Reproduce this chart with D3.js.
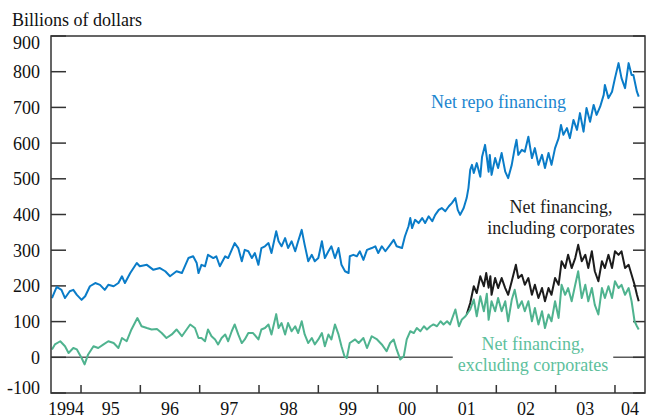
<!DOCTYPE html>
<html>
<head>
<meta charset="utf-8">
<script src="https://d3js.org/d3.v7.min.js"></script>
<style>
  body { margin: 0; background: #fff; }
  svg text { font-family: 'Liberation Serif', 'Times New Roman', serif; font-size: 18px; }
</style>
</head>
<body>
<div id="chart"></div>
<script>
// weekly series as [decimal year, billions of dollars]
var repo = [
  [1994.51,166],[1994.59,197],[1994.67,189],[1994.73,166],[1994.81,185],[1994.87,189],[1994.93,175],[1995.01,161],
  [1995.07,171],[1995.15,199],[1995.24,208],[1995.32,203],[1995.40,189],[1995.46,203],[1995.55,199],[1995.63,208],
  [1995.69,227],[1995.74,208],[1995.83,236],[1995.94,264],[1995.99,255],[1996.11,259],[1996.22,245],[1996.33,250],
  [1996.42,241],[1996.50,227],[1996.61,241],[1996.70,236],[1996.81,278],[1996.89,283],[1996.95,264],[1996.98,236],
  [1997.03,259],[1997.09,255],[1997.14,287],[1997.23,278],[1997.28,283],[1997.34,255],[1997.43,283],[1997.48,278],
  [1997.54,301],[1997.59,320],[1997.65,306],[1997.71,269],[1997.76,301],[1997.82,297],[1997.88,278],[1997.93,292],
  [1997.99,259],[1998.04,306],[1998.10,311],[1998.16,320],[1998.21,292],[1998.29,353],[1998.33,325],[1998.38,311],
  [1998.44,334],[1998.49,306],[1998.55,325],[1998.61,297],[1998.66,325],[1998.72,357],[1998.77,315],[1998.83,269],
  [1998.89,287],[1998.94,269],[1999.00,278],[1999.06,325],[1999.11,278],[1999.17,297],[1999.22,311],[1999.28,278],
  [1999.34,306],[1999.39,259],[1999.45,241],[1999.51,236],[1999.53,283],[1999.59,287],[1999.65,283],[1999.70,297],
  [1999.76,273],[1999.82,301],[1999.90,306],[1999.96,311],[2000.01,292],[2000.07,311],[2000.13,297],[2000.21,315],
  [2000.27,329],[2000.32,311],[2000.41,306],[2000.46,339],[2000.52,367],[2000.55,390],[2000.58,362],[2000.63,385],
  [2000.69,376],[2000.75,390],[2000.80,376],[2000.86,395],[2000.92,381],[2000.97,399],[2001.03,413],[2001.08,418],
  [2001.14,409],[2001.20,423],[2001.25,432],[2001.31,446],[2001.35,413],[2001.39,399],[2001.45,418],[2001.50,446],
  [2001.53,474],[2001.56,525],[2001.59,539],[2001.62,516],[2001.67,544],[2001.73,506],[2001.76,562],[2001.81,595],
  [2001.84,560],[2001.87,520],[2001.89,567],[2001.92,511],[2001.98,558],[2002.03,530],[2002.09,572],[2002.15,520],
  [2002.20,502],[2002.26,539],[2002.31,586],[2002.34,609],[2002.37,567],[2002.43,581],[2002.48,576],[2002.54,618],
  [2002.60,558],[2002.65,586],[2002.71,539],[2002.77,567],[2002.82,530],[2002.88,572],[2002.93,539],[2002.99,586],
  [2003.05,614],[2003.09,651],[2003.13,623],[2003.19,642],[2003.24,614],[2003.30,665],[2003.36,637],[2003.41,684],
  [2003.47,632],[2003.52,698],[2003.58,660],[2003.64,707],[2003.69,679],[2003.75,702],[2003.81,735],[2003.83,763],
  [2003.89,726],[2003.95,744],[2004.00,782],[2004.06,824],[2004.11,782],[2004.17,754],[2004.23,824],[2004.28,791],
  [2004.31,791],[2004.37,744],[2004.40,730]
];

var exclCorp = [
  [1994.51,22],[1994.56,36],[1994.65,45],[1994.73,31],[1994.79,12],[1994.87,26],[1994.93,22],[1995.01,-2],
  [1995.06,-20],[1995.12,8],[1995.21,31],[1995.29,26],[1995.38,36],[1995.46,45],[1995.55,40],[1995.63,26],
  [1995.69,54],[1995.77,45],[1995.85,78],[1995.95,110],[1996.02,87],[1996.11,82],[1996.19,78],[1996.28,79],
  [1996.36,68],[1996.44,54],[1996.53,64],[1996.61,78],[1996.70,59],[1996.78,78],[1996.84,92],[1996.92,82],
  [1996.98,54],[1997.03,54],[1997.09,45],[1997.14,78],[1997.20,59],[1997.26,50],[1997.31,36],[1997.37,54],
  [1997.43,64],[1997.48,45],[1997.54,73],[1997.59,92],[1997.65,64],[1997.71,40],[1997.76,50],[1997.82,68],
  [1997.90,68],[1997.99,50],[1998.04,78],[1998.10,82],[1998.16,92],[1998.21,64],[1998.29,121],[1998.33,82],
  [1998.38,96],[1998.44,64],[1998.49,96],[1998.55,73],[1998.61,87],[1998.66,68],[1998.72,101],[1998.77,64],
  [1998.83,40],[1998.89,54],[1998.94,36],[1999.00,50],[1999.06,68],[1999.11,31],[1999.17,64],[1999.22,50],
  [1999.28,92],[1999.34,64],[1999.39,31],[1999.44,3],[1999.48,-2],[1999.53,40],[1999.62,50],[1999.68,40],
  [1999.76,54],[1999.82,26],[1999.90,59],[1999.99,50],[2000.07,36],[2000.15,17],[2000.21,40],[2000.27,50],
  [2000.32,22],[2000.38,-6],[2000.44,3],[2000.49,50],[2000.55,73],[2000.61,68],[2000.66,82],[2000.72,73],
  [2000.78,87],[2000.83,78],[2000.89,87],[2000.94,92],[2001.00,87],[2001.06,101],[2001.11,92],[2001.17,101],
  [2001.22,92],[2001.31,134],[2001.37,87],[2001.42,106],[2001.48,115],[2001.50,120],[2001.56,134],[2001.62,162],
  [2001.67,115],[2001.73,171],[2001.79,129],[2001.84,178],[2001.87,105],[2001.92,157],[2001.98,129],[2002.03,166],
  [2002.09,129],[2002.15,157],[2002.20,101],[2002.26,161],[2002.31,189],[2002.37,138],[2002.43,157],[2002.48,129],
  [2002.54,157],[2002.60,101],[2002.65,138],[2002.71,92],[2002.77,129],[2002.82,82],[2002.88,120],[2002.93,101],
  [2002.99,157],[2003.05,110],[2003.10,203],[2003.16,175],[2003.21,194],[2003.27,157],[2003.33,203],[2003.38,241],
  [2003.44,166],[2003.50,203],[2003.55,157],[2003.61,194],[2003.66,147],[2003.72,120],[2003.78,194],[2003.83,166],
  [2003.89,199],[2003.95,166],[2004.00,213],[2004.06,194],[2004.11,203],[2004.17,175],[2004.23,194],[2004.28,157],
  [2004.33,101],[2004.37,87],[2004.40,78]
];

var inclCorp = [
  [2001.50,120],[2001.56,152],[2001.62,199],[2001.67,180],[2001.73,227],[2001.79,199],[2001.83,236],[2001.87,195],
  [2001.90,227],[2001.92,175],[2001.98,222],[2002.03,194],[2002.09,222],[2002.15,194],[2002.20,175],[2002.26,213],
  [2002.33,259],[2002.37,222],[2002.43,231],[2002.48,203],[2002.54,222],[2002.60,175],[2002.65,203],[2002.71,166],
  [2002.77,194],[2002.82,157],[2002.88,194],[2002.93,175],[2002.99,222],[2003.05,203],[2003.10,269],[2003.16,250],
  [2003.21,287],[2003.27,250],[2003.33,278],[2003.38,315],[2003.44,269],[2003.50,287],[2003.55,250],[2003.61,297],
  [2003.66,241],[2003.72,213],[2003.78,269],[2003.83,250],[2003.89,287],[2003.95,250],[2004.00,297],[2004.06,287],
  [2004.11,297],[2004.17,250],[2004.23,259],[2004.28,231],[2004.33,203],[2004.37,175],[2004.40,157]
];

var yTicks = [-100, 0, 100, 200, 300, 400, 500, 600, 700, 800, 900];
var years = [1994, 1995, 1996, 1997, 1998, 1999, 2000, 2001, 2002, 2003, 2004];
var yearLabels = ["1994", "95", "96", "97", "98", "99", "00", "01", "02", "03", "04"];

var W = 648, H = 420;
var plotL = 51, plotR = 645, plotT = 36, plotB = 393;

var svg = d3.select("#chart").append("svg").attr("width", W).attr("height", H);

var x = d3.scaleLinear().domain([1994.494, 2004.506]).range([plotL, plotR]);
var y = d3.scaleLinear().domain([-100, 900]).range([plotB, plotT]);

var frameColor = "#333";

// zero line
svg.append("line")
  .attr("x1", plotL).attr("x2", plotR)
  .attr("y1", y(0)).attr("y2", y(0))
  .attr("stroke", "#5a5a5a").attr("stroke-width", 1.5);

// y ticks, inside on both sides
svg.selectAll(".ytl").data(yTicks).enter().append("line")
  .attr("x1", plotL).attr("x2", plotL + 15)
  .attr("y1", function (d) { return y(d); }).attr("y2", function (d) { return y(d); })
  .attr("stroke", frameColor).attr("stroke-width", 1.5);
svg.selectAll(".ytr").data(yTicks).enter().append("line")
  .attr("x1", plotR - 12).attr("x2", plotR)
  .attr("y1", function (d) { return y(d); }).attr("y2", function (d) { return y(d); })
  .attr("stroke", frameColor).attr("stroke-width", 1.5);

// x ticks at the start of each year
svg.selectAll(".xt").data(years.slice(1)).enter().append("line")
  .attr("x1", function (d) { return x(d); }).attr("x2", function (d) { return x(d); })
  .attr("y1", plotB - 8).attr("y2", plotB)
  .attr("stroke", frameColor).attr("stroke-width", 1.5);

// lines
var line = d3.line()
  .x(function (d) { return x(d[0]); })
  .y(function (d) { return y(d[1]); });

svg.append("path").datum(repo).attr("d", line)
  .attr("fill", "none").attr("stroke", "#0a7cc8").attr("stroke-width", 2).attr("stroke-linejoin", "round");
svg.append("path").datum(inclCorp).attr("d", line)
  .attr("fill", "none").attr("stroke", "#1c1c1c").attr("stroke-width", 2).attr("stroke-linejoin", "round");
svg.append("path").datum(exclCorp).attr("d", line)
  .attr("fill", "none").attr("stroke", "#4fb38f").attr("stroke-width", 2).attr("stroke-linejoin", "round");

// frame
svg.append("rect")
  .attr("x", plotL).attr("y", plotT)
  .attr("width", plotR - plotL).attr("height", plotB - plotT)
  .attr("fill", "none").attr("stroke", frameColor).attr("stroke-width", 1.5);

// axis labels
svg.append("text").attr("x", 12).attr("y", 26).attr("fill", "#111").text("Billions of dollars");

svg.selectAll(".yl").data(yTicks).enter().append("text")
  .attr("x", 40)
  .attr("y", function (d) {
    if (d === 900) return y(d) + 13;
    if (d === -100) return y(d) + 1;
    return y(d) + 6.5;
  })
  .attr("text-anchor", "end").attr("fill", "#111")
  .text(function (d) { return d; });

svg.selectAll(".xl").data(years).enter().append("text")
  .attr("x", function (d) {
    var a = Math.max(d, x.domain()[0]), b = Math.min(d + 1, x.domain()[1]);
    return x((a + b) / 2);
  })
  .attr("y", 415)
  .attr("text-anchor", "middle").attr("fill", "#111")
  .text(function (d, i) { return yearLabels[i]; });

// series labels
svg.append("text").attr("x", 431).attr("y", 108).attr("fill", "#1a86cf").text("Net repo financing");

var incl = svg.append("text").attr("text-anchor", "middle").attr("fill", "#1c1c1c");
incl.append("tspan").attr("x", 561).attr("y", 213).text("Net financing,");
incl.append("tspan").attr("x", 561).attr("y", 234).text("including corporates");

var exclG = svg.append("g");
var excl = exclG.append("text").attr("text-anchor", "middle").attr("fill", "#5dbf9c");
excl.append("tspan").attr("x", 533).attr("y", 350).text("Net financing,");
excl.append("tspan").attr("x", 533).attr("y", 371).text("excluding corporates");
// white knock-out behind the label so the zero line breaks there
var bb = excl.node().getBBox();
exclG.insert("rect", "text")
  .attr("x", bb.x - 5).attr("y", bb.y + 4)
  .attr("width", bb.width + 10).attr("height", bb.height - 4)
  .attr("fill", "#fff");
</script>
</body>
</html>
